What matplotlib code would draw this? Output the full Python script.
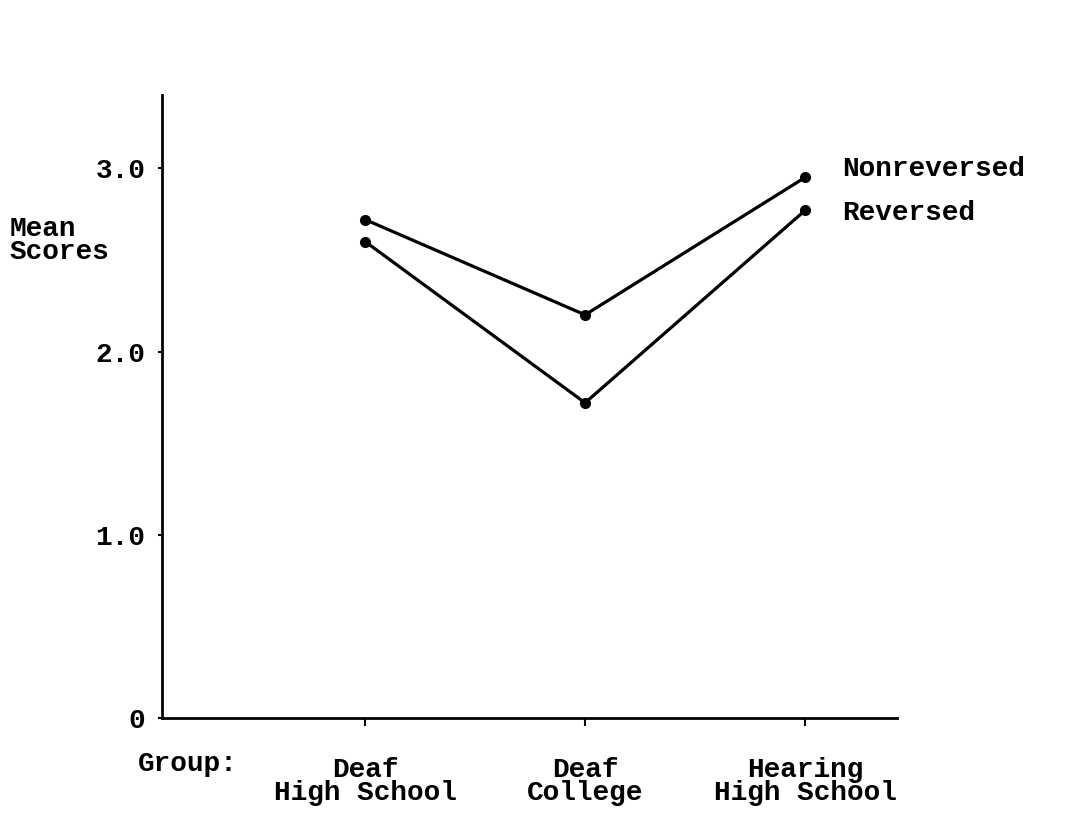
import matplotlib
matplotlib.use("Agg")
import matplotlib.pyplot as plt
import numpy as np

# values
groups = ["Deaf\nHigh School", "Deaf\nCollege", "Hearing\nHigh School"]
nonreversed = [2.72, 2.20, 2.95]
reversed_ = [2.60, 1.72, 2.77]
series_names = ["Nonreversed", "Reversed"]
y_ticks = [0, 1.0, 2.0, 3.0]
y_labels = ["0", "1.0", "2.0", "3.0"]

FONT = "Liberation Mono"
FS = 20

fig = plt.figure(figsize=(10.66, 8.15), dpi=100)
ax = fig.add_axes([0.152, 0.119, 0.6895, 0.7645])

x = np.arange(len(groups))
for vals, name, dy in [(nonreversed, series_names[0], 6), (reversed_, series_names[1], -2)]:
    ax.plot(x, vals, color="black", lw=2.3, marker="o", ms=7, solid_capstyle="round")
    ax.annotate(name, (x[-1], vals[-1]), xytext=(27, dy), textcoords="offset points",
                fontsize=FS, fontweight="bold", family=FONT, va="center", ha="left")

ax.set_xlim(-0.923, 2.418)
ax.set_ylim(0, 3.4)

for s in ["top", "right"]:
    ax.spines[s].set_visible(False)
for s in ["left", "bottom"]:
    ax.spines[s].set_linewidth(2)

ax.set_yticks(y_ticks)
ax.set_yticklabels(y_labels, fontsize=FS, fontweight="bold", family=FONT)
ax.tick_params(axis="y", length=3, width=1.5, pad=9)

ax.set_xticks(x)
ax.set_xticklabels(groups, fontsize=FS, fontweight="bold", family=FONT, linespacing=0.85)
ax.tick_params(axis="x", length=6, width=1.5, pad=22)

fig.text(10 / 1066, 1 - 240 / 815, "Mean\nScores", fontsize=FS, fontweight="bold",
         family=FONT, ha="left", va="center", linespacing=0.85)
fig.text(138 / 1066, 1 - 764 / 815, "Group:", fontsize=FS, fontweight="bold",
         family=FONT, ha="left", va="center")

fig.savefig("out.png", dpi=100)
